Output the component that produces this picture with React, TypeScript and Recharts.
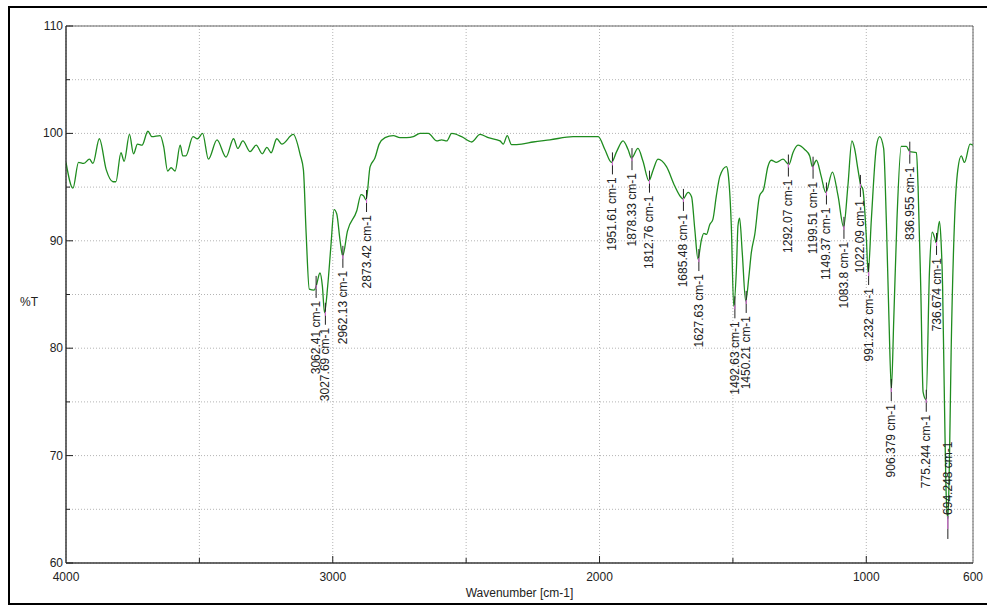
import { ComposedChart, Line, Scatter, XAxis, YAxis, CartesianGrid, ReferenceArea } from "recharts";

// spectrum: wavenumber [cm-1] and %T
const wavenumbers = [
  4000, 3974, 3953, 3934, 3912, 3899, 3875, 3849, 3824, 3813, 3794, 3782, 3762, 3747, 3732, 3715,
  3693, 3678, 3647, 3634, 3619, 3606, 3591, 3572, 3562, 3551, 3524, 3507, 3488, 3466, 3434, 3400,
  3372, 3356, 3337, 3310, 3287, 3264, 3247, 3231, 3210, 3191, 3148, 3122, 3110, 3100, 3088, 3070,
  3062, 3048, 3039, 3031, 3019, 3007, 2995, 2985, 2973, 2963, 2945, 2910, 2894, 2885, 2875, 2860,
  2842, 2826, 2804, 2773, 2748, 2723, 2698, 2673, 2642, 2610, 2592, 2573, 2554, 2517, 2479, 2448,
  2417, 2373, 2361, 2346, 2330, 2292, 2249, 2186, 2099, 2005, 1980, 1955, 1936, 1912, 1893, 1880,
  1856, 1837, 1815, 1799, 1781, 1749, 1718, 1696, 1687, 1668, 1655, 1643, 1631, 1618, 1609, 1599,
  1587, 1575, 1562, 1549, 1524, 1518, 1506, 1497, 1487, 1481, 1475, 1465, 1452, 1440, 1431, 1418,
  1400, 1385, 1369, 1356, 1337, 1312, 1290, 1275, 1256, 1231, 1212, 1202, 1187, 1169, 1152, 1127,
  1106, 1085, 1069, 1054, 1044, 1031, 1021, 1013, 1000, 993, 981, 962, 950, 935, 925, 915,
  906, 897, 885, 869, 850, 837, 812, 806, 796, 787, 776, 763, 753, 744, 738, 726,
  720, 714, 708, 700, 694, 688, 682, 669, 657, 644, 632, 611, 600,
];
const transmittance = [
  97.3, 94.9, 97.3, 97.2, 97.6, 97.2, 99.5, 96.6, 95.5, 95.5, 98.2, 97.4, 99.9, 98.1, 99.0, 98.9,
  100.2, 99.7, 99.8, 98.8, 96.5, 96.8, 96.5, 98.9, 97.9, 97.9, 99.7, 99.5, 100.0, 97.6, 99.4, 97.8,
  99.5, 98.6, 99.3, 98.3, 98.9, 98.1, 98.7, 98.2, 99.5, 99.0, 99.9, 98.0, 96.6, 90.8, 85.5, 85.4,
  85.8, 87.0, 85.8, 83.3, 85.8, 89.5, 92.9, 92.5, 90.1, 88.6, 90.9, 92.8, 94.3, 94.2, 93.8, 96.9,
  97.7, 99.0, 99.6, 99.8, 99.6, 99.6, 99.7, 100.0, 100.0, 99.3, 99.4, 99.3, 100.0, 99.7, 99.2, 99.9,
  99.6, 99.3, 99.0, 99.8, 98.95, 99.0, 99.2, 99.4, 99.7, 99.7, 98.5, 97.3, 98.3, 99.3, 98.5, 97.7,
  98.6, 97.4, 95.6, 96.6, 97.6, 96.9, 95.1, 94.1, 93.9, 94.5, 94.1, 91.1, 88.3, 90.1, 90.7, 90.6,
  91.5, 92.0, 94.2, 96.0, 96.9, 96.3, 91.4, 83.9, 87.3, 91.4, 92.1, 88.9, 84.4, 86.7, 88.9, 90.6,
  94.2, 94.8, 96.9, 97.5, 97.3, 97.6, 97.1, 98.2, 98.9, 98.5, 97.9, 96.9, 97.5, 96.0, 94.5, 96.4,
  94.2, 91.3, 95.1, 99.3, 98.6, 96.6, 95.2, 94.8, 90.4, 87.0, 92.0, 98.8, 99.7, 98.6, 92.0, 82.7,
  76.2, 82.7, 92.0, 98.8, 98.8, 98.3, 98.2, 95.1, 85.8, 75.9, 75.2, 87.3, 90.8, 90.3, 89.8, 91.8,
  90.1, 85.8, 76.5, 66.0, 64.1, 70.0, 79.6, 92.0, 96.6, 97.9, 97.3, 99.0, 98.9,
];

// picked peaks
const peakWavenumbers = [
  3062.41, 3027.69, 2962.13, 2873.42, 1951.61, 1878.33, 1812.76, 1685.48, 1627.63, 1492.63, 1450.21,
  1292.07, 1199.51, 1149.37, 1083.8, 1022.09, 991.232, 906.379, 836.955, 775.244, 736.674, 694.248,
];
const peakValues = [
  85.8, 83.3, 88.6, 93.8, 97.3, 97.7, 95.6, 93.9, 88.3, 83.9, 84.4,
  97.1, 96.9, 94.5, 91.3, 95.2, 87.0, 76.2, 98.3, 75.2, 89.8, 64.1,
];
const peaksLabelledAbove = [694.248];

const xTicks = [4000, 3500, 3000, 2500, 2000, 1500, 1000, 600];
const yTicks = [60, 65, 70, 75, 80, 85, 90, 95, 100, 105, 110];

const spectrum = wavenumbers.map((wn, i) => ({ wn, t: transmittance[i] }));
const peaks = peakWavenumbers.map((wn, i) => ({
  wn,
  t: peakValues[i],
  label: `${wn} cm-1`,
  above: peaksLabelledAbove.includes(wn),
}));

const FONT = "'Liberation Sans', Arial, sans-serif";

const XTick = ({ x, y, payload }: any) => {
  const v = payload.value;
  const major = v % 1000 === 0 || v === 600;
  const edge = v === 4000 || v === 600;
  return (
    <g>
      {!edge && <line x1={x} x2={x} y1={y} y2={y - (major ? 7 : 5)} stroke="#222" />}
      {major && (
        <text x={x} y={y + 18} textAnchor="middle" fontSize={12} fontFamily={FONT} fill="#222">
          {v}
        </text>
      )}
    </g>
  );
};

const YTick = ({ x, y, payload }: any) => {
  const v = payload.value;
  const major = v % 10 === 0;
  return (
    <g>
      <line x1={x} x2={x + (major ? 7 : 4)} y1={y} y2={y} stroke="#222" />
      {major && (
        <text x={x - 3} y={y + 4} textAnchor="end" fontSize={12} fontFamily={FONT} fill="#222">
          {v}
        </text>
      )}
    </g>
  );
};

const PeakMark = ({ cx, cy, payload }: any) => {
  if (payload.above) {
    return (
      <g>
        <line x1={cx} x2={cx} y1={cy - 3} y2={cy + 20} stroke="#222" />
        <line x1={cx} x2={cx} y1={cy - 3} y2={cy + 10} stroke="#e070e0" />
        <text
          transform={`translate(${cx + 4},${cy - 4}) rotate(-90)`}
          textAnchor="start"
          fontSize={12}
          fontFamily={FONT}
          fill="#222"
        >
          {payload.label}
        </text>
      </g>
    );
  }
  return (
    <g>
      <line x1={cx} x2={cx} y1={cy - 10} y2={cy + 12} stroke="#222" />
      <line x1={cx} x2={cx} y1={cy - 1} y2={cy + 3} stroke="#e070e0" />
      <text
        transform={`translate(${cx + 4},${cy + 15}) rotate(-90)`}
        textAnchor="end"
        fontSize={12}
        fontFamily={FONT}
        fill="#222"
      >
        {payload.label}
      </text>
    </g>
  );
};

export default function App() {
  return (
    <div style={{ position: "absolute", left: 0, top: 0, width: 987, height: 608, background: "#fff" }}>
      <div
        style={{
          position: "absolute",
          left: 8,
          top: 6,
          width: 990,
          height: 599,
          border: "2px solid #000",
          boxSizing: "border-box",
        }}
      />
      <div style={{ position: "absolute", left: 0, top: 0 }}>
        <ComposedChart width={987} height={608} data={spectrum} margin={{ top: 26, right: 14, bottom: 0, left: 0 }}>
          <CartesianGrid stroke="#b4b4b4" strokeDasharray="1 2" />
          <XAxis
            dataKey="wn"
            type="number"
            domain={[600, 4000]}
            reversed
            allowDataOverflow
            ticks={xTicks}
            interval={0}
            height={45}
            tickSize={0}
            tickMargin={0}
            tickLine={false}
            tick={<XTick />}
            axisLine={{ stroke: "#222" }}
            label={{
              content: ({ viewBox }: any) => (
                <text
                  x={viewBox.x + viewBox.width / 2}
                  y={viewBox.y + 34}
                  textAnchor="middle"
                  fontSize={12}
                  fontFamily={FONT}
                  fill="#222"
                >
                  Wavenumber [cm-1]
                </text>
              ),
            }}
          />
          <YAxis
            type="number"
            domain={[60, 110]}
            allowDataOverflow
            ticks={yTicks}
            interval={0}
            width={66}
            tickSize={0}
            tickMargin={0}
            tickLine={false}
            tick={<YTick />}
            axisLine={{ stroke: "#222" }}
            label={{
              content: () => (
                <text x={29} y={306} textAnchor="middle" fontSize={12} fontFamily={FONT} fill="#222">
                  %T
                </text>
              ),
            }}
          />
          <ReferenceArea x1={4000} x2={600} y1={60} y2={110} fill="none" stroke="#666" strokeOpacity={1} />
          <Line
            type="monotone"
            dataKey="t"
            stroke="#1f8c1f"
            strokeWidth={1.3}
            dot={false}
            activeDot={false}
            isAnimationActive={false}
          />
          <Scatter data={peaks} dataKey="t" shape={<PeakMark />} isAnimationActive={false} />
        </ComposedChart>
      </div>
    </div>
  );
}
